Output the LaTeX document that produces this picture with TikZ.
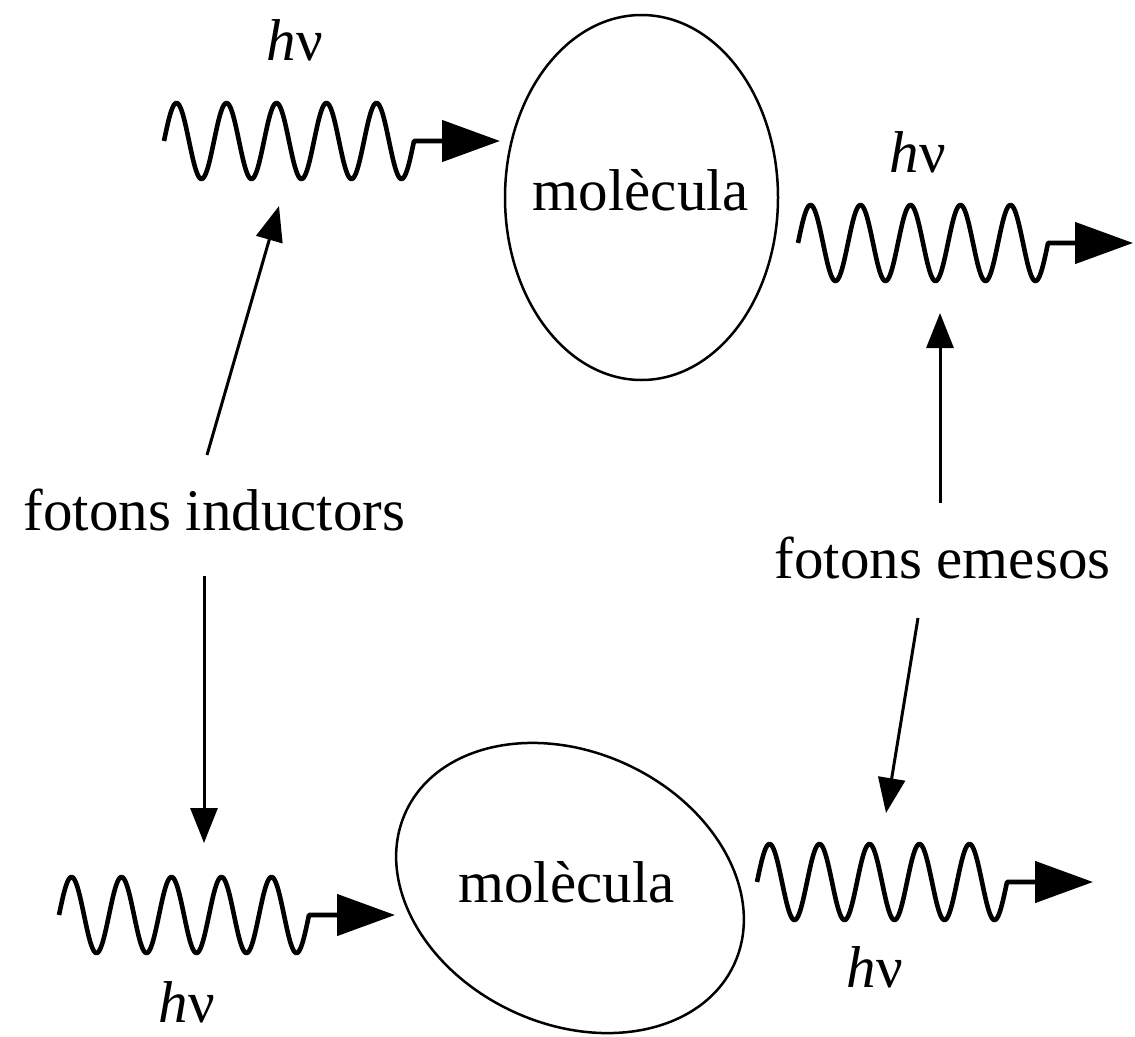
\documentclass[tikz,border=0pt]{standalone}
\usepackage{fontspec}
\setmainfont{Liberation Serif}
\usetikzlibrary{arrows.meta,shapes.geometric}
\begin{document}
\begin{tikzpicture}[x=1pt,y=-1pt,
  wave/.style={line width=4.6pt, line join=round, -{Triangle[length=58pt,width=41pt]}},
  thinarr/.style={line width=3pt, -{Triangle[length=35pt,width=27pt]}},
  mol/.style={draw, ellipse, line width=2.5pt, inner sep=0pt},
  lbl/.style={font=\fontsize{59}{70}\selectfont, inner sep=0pt, anchor=base}]
\useasboundingbox (0,0) rectangle (1135,1036);

% molecules
\node[mol, minimum width=273pt, minimum height=365pt] (m1) at (641.5,197.5) {};
\node[mol, minimum width=362pt, minimum height=272pt, rotate=-25] (m2) at (570,888) {};
\node[lbl] (t1) at (641,210) {molècula};
\node[lbl] (t2) at (566.5,902) {molècula};

% captions
\node[lbl] (ind) at (214.5,530) {fotons inductors};
\node[lbl] (em) at (942.5,578) {fotons emesos};

% h nu labels
\node[lbl] (h1) at (295,60) {\textit{h}ν};
\node[lbl] (h2) at (918,172) {\textit{h}ν};
\node[lbl] (h3) at (187,1022) {\textit{h}ν};
\node[lbl] (h4) at (875,987) {\textit{h}ν};

% photon waves
\coordinate (w1t) at (500,141);
\coordinate (w2t) at (1133,243);
\coordinate (w3t) at (395,915);
\coordinate (w4t) at (1093,882);
\draw[wave] plot[domain=0:250, samples=251] ({164+\x}, {141 - 38*sin(7.2*\x)}) -- (w1t);
\draw[wave] plot[domain=0:250, samples=251] ({798+\x}, {243 - 38*sin(7.2*\x)}) -- (w2t);
\draw[wave] plot[domain=0:250, samples=251] ({59+\x}, {915 - 38*sin(7.2*\x)}) -- (w3t);
\draw[wave] plot[domain=0:250, samples=251] ({757+\x}, {882 - 38*sin(7.2*\x)}) -- (w4t);

% pointer arrows
\coordinate (a1s) at (207,455); \coordinate (a1e) at (279,206);
\coordinate (a2s) at (204,576); \coordinate (a2e) at (204,843);
\coordinate (a3s) at (940,503); \coordinate (a3e) at (940,313);
\coordinate (a4s) at (918,618); \coordinate (a4e) at (886,813);
\draw[thinarr] (a1s) -- (a1e);
\draw[thinarr] (a2s) -- (a2e);
\draw[thinarr] (a3s) -- (a3e);
\draw[thinarr] (a4s) -- (a4e);
\end{tikzpicture}
\end{document}
